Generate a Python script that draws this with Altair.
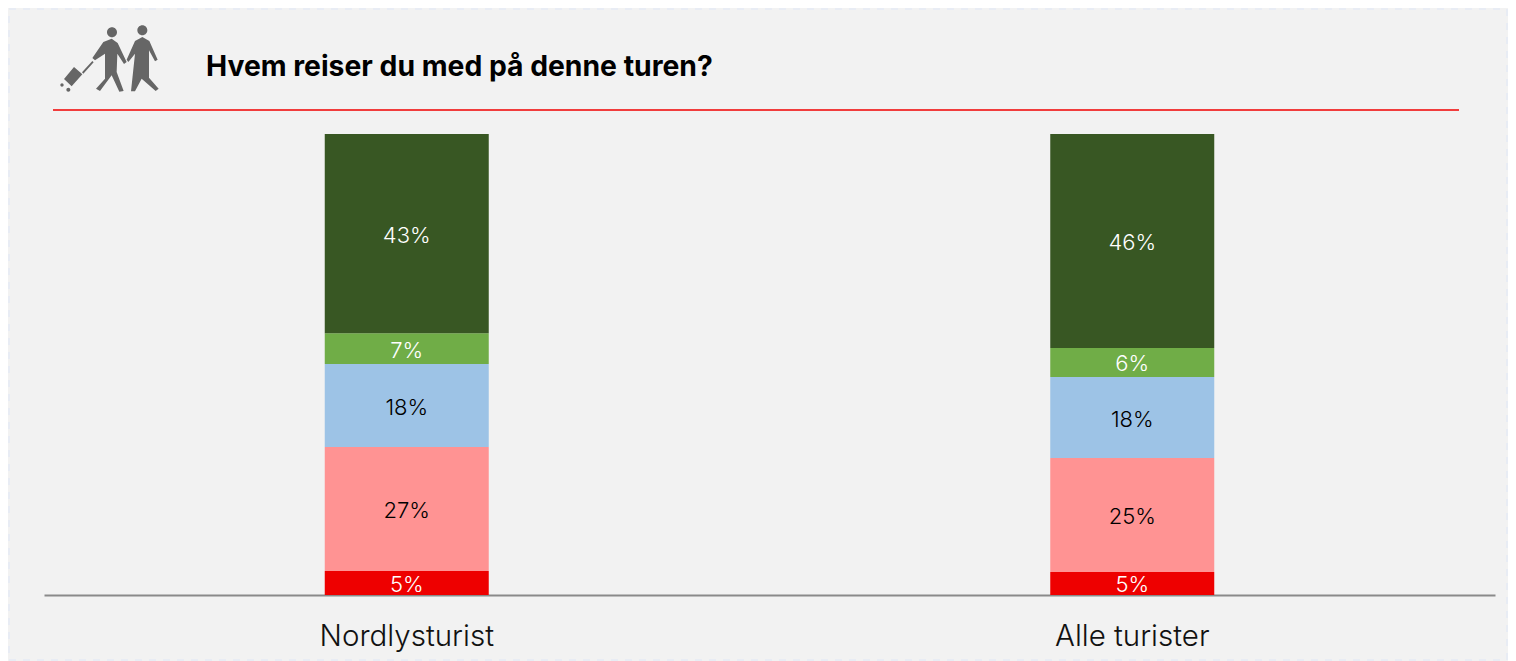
import altair as alt
import pandas as pd

groups = ["Nordlysturist", "Alle turister"]
segments = ["Alene", "Par", "Familie", "Venner", "Gruppe"]
labels_a = ["5%", "27%", "18%", "7%", "43%"]
labels_b = ["5%", "25%", "18%", "6%", "46%"]
values_a = [5.2, 26.9, 18.0, 6.7, 43.2]
values_b = [5.0, 24.7, 17.6, 6.3, 46.4]
colors = ["#EE0000", "#FF9393", "#9DC3E6", "#70AD47", "#385723"]
text_colors = ["#FFFFFF", "#000000", "#000000", "#FFFFFF", "#FFFFFF"]
title_text = "Hvem reiser du med på denne turen?"
FONT = "Inter"

rows = []
for g, vals, labs in [(groups[0], values_a, labels_a), (groups[1], values_b, labels_b)]:
    c = 0
    for s, v, l, tc in zip(segments, vals, labs, text_colors):
        rows.append(dict(group=g, seg=s, start=c, end=c + v, mid=c + v / 2, label=l, tc=tc))
        c += v
df = pd.DataFrame(rows)

x = alt.X("group:N", sort=groups, title=None,
          scale=alt.Scale(paddingInner=0.0, paddingOuter=0.0),
          axis=alt.Axis(labelAngle=0, labelFontSize=29.5, labelFont=FONT, labelColor="#111111",
                        labelFontWeight=300, labelPadding=27, ticks=False, domainColor="#8a8a8a",
                        domainWidth=2, grid=False))
yscale = alt.Scale(domain=[0, 100])

bars = alt.Chart(df).mark_bar(width=164).encode(
    x=x, y=alt.Y("start:Q", scale=yscale, axis=None), y2="end:Q",
    color=alt.Color("seg:N", scale=alt.Scale(domain=segments, range=colors), legend=None),
)
text = alt.Chart(df).mark_text(font=FONT, fontSize=22, fontWeight=300, baseline="middle", dy=2).encode(
    x=x,
    y=alt.Y("mid:Q", scale=yscale, axis=None),
    text="label:N",
    color=alt.Color("tc:N", scale=None),
)

one = pd.DataFrame({"a": [0]})
frame = alt.Chart(one).mark_rect(fill="transparent", stroke="#E8ECF4", strokeDash=[7, 7], strokeWidth=2).encode(
    x=alt.value(-35), x2=alt.value(1463), y=alt.value(-125), y2=alt.value(526))
title = alt.Chart(one).mark_text(text=title_text, font=FONT, fontSize=28.3, fontWeight="bold",
                                 align="left", baseline="middle", color="#000000").encode(
    x=alt.value(162), y=alt.value(-66))
red = alt.Chart(one).mark_rule(color="#F00000", strokeWidth=1.5).encode(
    x=alt.value(9), x2=alt.value(1415), y=alt.value(-24))


def P(pts):
    return "M" + "L".join(f"{(a-330)/150:.3f} {(b-170)/150:.3f}" for a, b in pts) + "Z"


def C(cx, cy, r):
    x0, x1, yy, rr = (cx - r - 330) / 150, (cx + r - 330) / 150, (cy - 170) / 150, r / 150
    return f"M{x0:.3f} {yy:.3f}A{rr:.3f} {rr:.3f} 0 1 0 {x1:.3f} {yy:.3f}A{rr:.3f} {rr:.3f} 0 1 0 {x0:.3f} {yy:.3f}Z"


icon_path = "".join([
    C(336, 96, 15), C(427, 90, 15), C(186, 254, 5), C(205, 268, 6),
    P([(335, 115), (353, 128), (380, 185), (372, 191), (352, 160), (350, 215), (371, 272), (358, 274),
       (335, 225), (300, 272), (288, 265), (315, 235), (315, 160), (285, 180), (277, 173), (310, 125)]),
    P([(427, 110), (448, 122), (473, 178), (465, 183), (447, 150), (447, 232), (476, 265), (467, 272),
       (425, 235), (405, 273), (393, 273), (405, 160), (385, 185), (380, 178), (405, 122)]),
    P([(222, 200), (247, 222), (215, 258), (192, 236)]),
    P([(277, 182), (281, 186), (250, 220), (246, 216)]),
])
icon = alt.Chart(one).mark_point(shape=icon_path, size=10000, filled=True, fill="#666666", opacity=1,
                                 strokeWidth=0).encode(x=alt.value(66), y=alt.value(-77))

chart = alt.layer(bars, text, frame, red, title, icon).properties(
    width=1451, height=461,
    padding={"left": 36, "top": 126, "right": 13, "bottom": 66},
    autosize=alt.AutoSizeParams(type="none"),
    background="#F2F2F2",
).configure_view(stroke=None)

chart.save("out.html", embed_options={"renderer": "svg", "actions": False})
